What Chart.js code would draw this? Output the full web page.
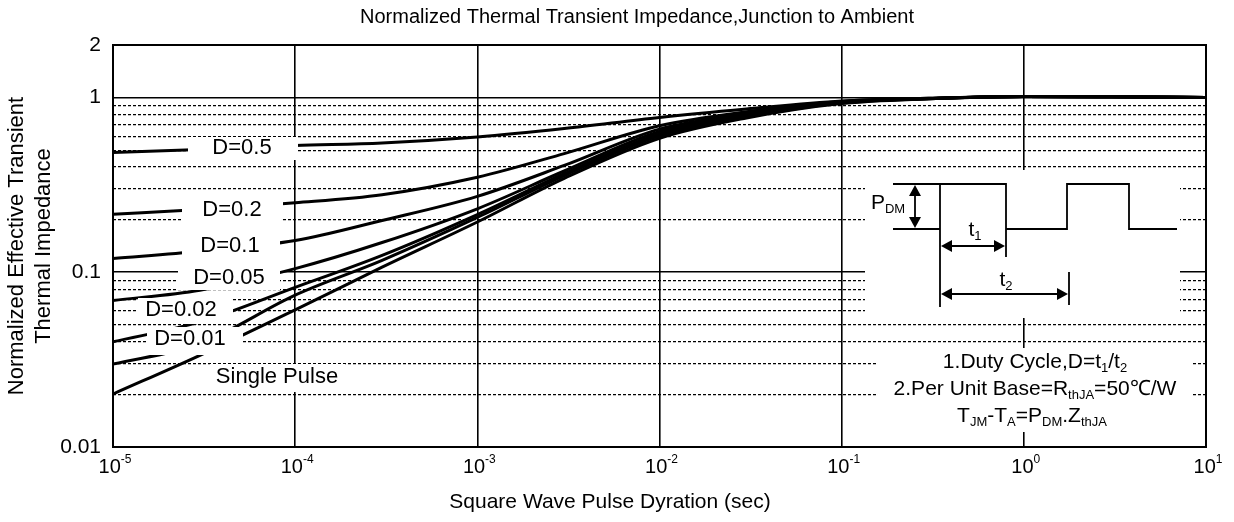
<!DOCTYPE html>
<html>
<head>
<meta charset="utf-8">
<script src="https://cdn.jsdelivr.net/npm/chart.js@4.4.0/dist/chart.umd.min.js"></script>
<style>
  html, body { margin: 0; padding: 0; background: #fff; }
</style>
</head>
<body>
<canvas id="myChart" width="1234" height="522"></canvas>
<script>
const pulseTimes = [1e-5, 3e-5, 1e-4, 3e-4, 1e-3, 3e-3, 1e-2, 3e-2, 1e-1, 3e-1, 1, 3, 10];

// normalized Zth for each duty cycle
const duty05 = [0.485, 0.505, 0.532, 0.55, 0.595, 0.665, 0.77, 0.86, 0.955, 0.99, 1.015, 1.01, 1.0];
const duty02 = [0.215, 0.229, 0.25, 0.278, 0.35, 0.478, 0.69, 0.83, 0.95, 0.99, 1.015, 1.01, 1.0];
const duty01 = [0.12, 0.132, 0.152, 0.198, 0.272, 0.409, 0.66, 0.81, 0.945, 0.988, 1.015, 1.01, 1.0];
const duty005 = [0.069, 0.079, 0.105, 0.148, 0.231, 0.38, 0.64, 0.795, 0.94, 0.987, 1.015, 1.01, 1.0];
const duty002 = [0.04, 0.052, 0.082, 0.125, 0.214, 0.367, 0.62, 0.785, 0.935, 0.986, 1.015, 1.01, 1.0];
const duty001 = [0.0298, 0.039, 0.074, 0.117, 0.206, 0.358, 0.605, 0.775, 0.93, 0.985, 1.015, 1.01, 1.0];
const singlePulse = [0.0201, 0.0335, 0.061, 0.107, 0.194, 0.345, 0.585, 0.765, 0.925, 0.984, 1.015, 1.01, 1.0];

const seriesNames = ['D=0.5', 'D=0.2', 'D=0.1', 'D=0.05', 'D=0.02', 'D=0.01', 'Single Pulse'];
const seriesValues = [duty05, duty02, duty01, duty005, duty002, duty001, singlePulse];

const xTicks = [1e-5, 1e-4, 1e-3, 1e-2, 1e-1, 1, 10];
const xExponents = ['-5', '-4', '-3', '-2', '-1', '0', '1'];
const yTicks = [0.01, 0.02, 0.03, 0.04, 0.05, 0.06, 0.07, 0.08, 0.09,
  0.1, 0.2, 0.3, 0.4, 0.5, 0.6, 0.7, 0.8, 0.9, 1, 2];
const yLabels = { 0.01: '0.01', 0.1: '0.1', 1: '1', 2: '2' };

const FONT = '"Liberation Sans", Arial, sans-serif';

function isMajorY(v) {
  return v === 0.01 || v === 0.1 || v === 1 || v === 2;
}

// text with sub/superscript pieces: [text, 'n' | 'sub' | 'sup']
function drawRich(ctx, parts, cx, cy, size) {
  const big = size + 'px ' + FONT;
  const small = Math.round(size * 0.62) + 'px ' + FONT;
  let total = 0;
  parts.forEach(p => {
    ctx.font = p[1] === 'n' ? big : small;
    total += ctx.measureText(p[0]).width;
  });
  let x = cx - total / 2;
  ctx.textAlign = 'left';
  ctx.textBaseline = 'middle';
  parts.forEach(p => {
    ctx.font = p[1] === 'n' ? big : small;
    let dy = 0;
    if (p[1] === 'sub') dy = size * 0.32;
    if (p[1] === 'sup') dy = -size * 0.36;
    ctx.fillText(p[0], x, cy + dy);
    x += ctx.measureText(p[0]).width;
  });
}

function arrowHead(ctx, x, y, dir) {
  // dir: 'l', 'r', 'u', 'd'
  const L = 11, W = 6;
  ctx.beginPath();
  ctx.moveTo(x, y);
  if (dir === 'l') { ctx.lineTo(x + L, y - W); ctx.lineTo(x + L, y + W); }
  if (dir === 'r') { ctx.lineTo(x - L, y - W); ctx.lineTo(x - L, y + W); }
  if (dir === 'u') { ctx.lineTo(x - W, y + L); ctx.lineTo(x + W, y + L); }
  if (dir === 'd') { ctx.lineTo(x - W, y - L); ctx.lineTo(x + W, y - L); }
  ctx.closePath();
  ctx.fill();
}

function line(ctx, pts) {
  ctx.beginPath();
  ctx.moveTo(pts[0][0], pts[0][1]);
  for (let i = 1; i < pts.length; i++) ctx.lineTo(pts[i][0], pts[i][1]);
  ctx.stroke();
}

// curve labels sit in white boxes that cut the lines
const curveLabels = [
  { text: 'D=0.5', box: [188, 137, 110, 23], at: [242, 148] },
  { text: 'D=0.2', box: [182, 199, 101, 23], at: [232, 210] },
  { text: 'D=0.1', box: [182, 234, 98, 24], at: [230, 246] },
  { text: 'D=0.05', box: [178, 266, 102, 24], at: [229, 278] },
  { text: 'D=0.02', box: [138, 298, 95, 26], at: [181, 310] },
  { text: 'D=0.01', box: [147, 327, 96, 28], at: [190, 339] },
  { text: 'Single Pulse', box: [210, 364, 135, 28], at: [277, 377] }
];

const decor = {
  id: 'decor',
  afterDatasetsDraw(chart) {
    const ctx = chart.ctx;
    const a = chart.chartArea;
    const xs = chart.scales.x;
    ctx.save();
    ctx.fillStyle = '#000';

    // curve labels
    curveLabels.forEach(l => {
      ctx.fillStyle = '#fff';
      ctx.fillRect(l.box[0], l.box[1], l.box[2], l.box[3]);
      ctx.fillStyle = '#000';
      drawRich(ctx, [[l.text, 'n']], l.at[0], l.at[1], 22);
    });

    // pulse sketch
    ctx.fillStyle = '#fff';
    ctx.fillRect(865, 170, 315, 148);
    ctx.fillRect(876, 348, 316, 84);
    ctx.fillStyle = '#000';
    ctx.strokeStyle = '#000';
    ctx.lineWidth = 1.8;
    line(ctx, [[893, 184], [1006, 184], [1006, 257]]);
    line(ctx, [[893, 229], [940, 229]]);
    line(ctx, [[940, 184], [940, 307]]);
    line(ctx, [[1006, 229], [1067, 229], [1067, 184], [1129, 184], [1129, 229], [1177, 229]]);
    line(ctx, [[1069, 272], [1069, 305]]);
    // P_DM arrow
    line(ctx, [[915, 194], [915, 219]]);
    arrowHead(ctx, 915, 185, 'u');
    arrowHead(ctx, 915, 228, 'd');
    // t1 arrow
    line(ctx, [[950, 246], [996, 246]]);
    arrowHead(ctx, 941, 246, 'l');
    arrowHead(ctx, 1005, 246, 'r');
    // t2 arrow
    line(ctx, [[950, 294], [1059, 294]]);
    arrowHead(ctx, 941, 294, 'l');
    arrowHead(ctx, 1068, 294, 'r');
    drawRich(ctx, [['P', 'n'], ['DM', 'sub']], 888, 203, 21);
    drawRich(ctx, [['t', 'n'], ['1', 'sub']], 975, 230, 21);
    drawRich(ctx, [['t', 'n'], ['2', 'sub']], 1006, 280, 21);

    // notes
    drawRich(ctx, [['1.Duty Cycle,D=t', 'n'], ['1', 'sub'], ['/t', 'n'], ['2', 'sub']], 1035, 362, 21);
    drawRich(ctx, [['2.Per Unit Base=R', 'n'], ['thJA', 'sub'], ['=50\u2103/W', 'n']], 1035, 389, 21);
    drawRich(ctx, [['T', 'n'], ['JM', 'sub'], ['-T', 'n'], ['A', 'sub'], ['=P', 'n'], ['DM', 'sub'],
      ['.', 'n'], ['Z', 'n'], ['thJA', 'sub']], 1032, 416, 21);

    // frame
    ctx.lineWidth = 2;
    ctx.strokeRect(a.left, a.top, a.right - a.left, a.bottom - a.top);

    // x tick labels 10^n
    xTicks.forEach((v, i) => {
      const px = xs.getPixelForValue(v);
      drawRich(ctx, [['10', 'n'], [xExponents[i], 'sup']], px + 2, 467, 20);
    });

    // titles
    ctx.font = '21px ' + FONT;
    ctx.textAlign = 'center';
    ctx.textBaseline = 'middle';
    ctx.fillText('Square Wave Pulse Dyration (sec)', 610, 502);
    ctx.font = '20px ' + FONT;
    ctx.fillText('Normalized Thermal Transient Impedance,Junction to Ambient', 637, 17);
    ctx.restore();
  }
};

const ctx = document.getElementById('myChart').getContext('2d');
const myChart = new Chart(ctx, {
  type: 'line',
  data: {
    datasets: seriesValues.map((vals, k) => ({
      label: seriesNames[k],
      data: pulseTimes.map((t, i) => ({ x: t, y: vals[i] })),
      borderColor: '#000',
      borderWidth: 3,
      pointRadius: 0,
      cubicInterpolationMode: 'monotone',
      fill: false
    }))
  },
  options: {
    responsive: false,
    animation: false,
    devicePixelRatio: 1,
    layout: { padding: { top: 45, right: 28, left: 0, bottom: 0 } },
    plugins: {
      legend: { display: false },
      tooltip: { enabled: false }
    },
    scales: {
      x: {
        type: 'logarithmic',
        min: 1e-5,
        max: 10,
        afterBuildTicks: (s) => { s.ticks = xTicks.map(v => ({ value: v })); },
        afterFit: (s) => { s.height = 75; },
        ticks: { display: false, autoSkip: false },
        grid: { color: '#000', lineWidth: 1.6, drawTicks: false },
        border: { display: false }
      },
      y: {
        type: 'logarithmic',
        min: 0.01,
        max: 2,
        afterBuildTicks: (s) => { s.ticks = yTicks.map(v => ({ value: v })); },
        afterFit: (s) => { s.width = 113; },
        ticks: {
          autoSkip: false,
          padding: 12,
          color: '#000',
          font: { family: FONT, size: 21 },
          callback: (v) => yLabels[v] || ''
        },
        grid: {
          color: '#000',
          drawTicks: false,
          lineWidth: (c) => (c.tick && !isMajorY(c.tick.value)) ? 1.3 : 1.6
        },
        border: {
          display: false,
          dash: (c) => (c.tick && !isMajorY(c.tick.value)) ? [3, 2] : []
        },
        title: {
          display: true,
          text: ['Normalized Effective Transient', 'Thermal Impedance'],
          color: '#000',
          font: { family: FONT, size: 22 },
          padding: { top: 4, bottom: 0 }
        }
      }
    }
  },
  plugins: [decor]
});
</script>
</body>
</html>
